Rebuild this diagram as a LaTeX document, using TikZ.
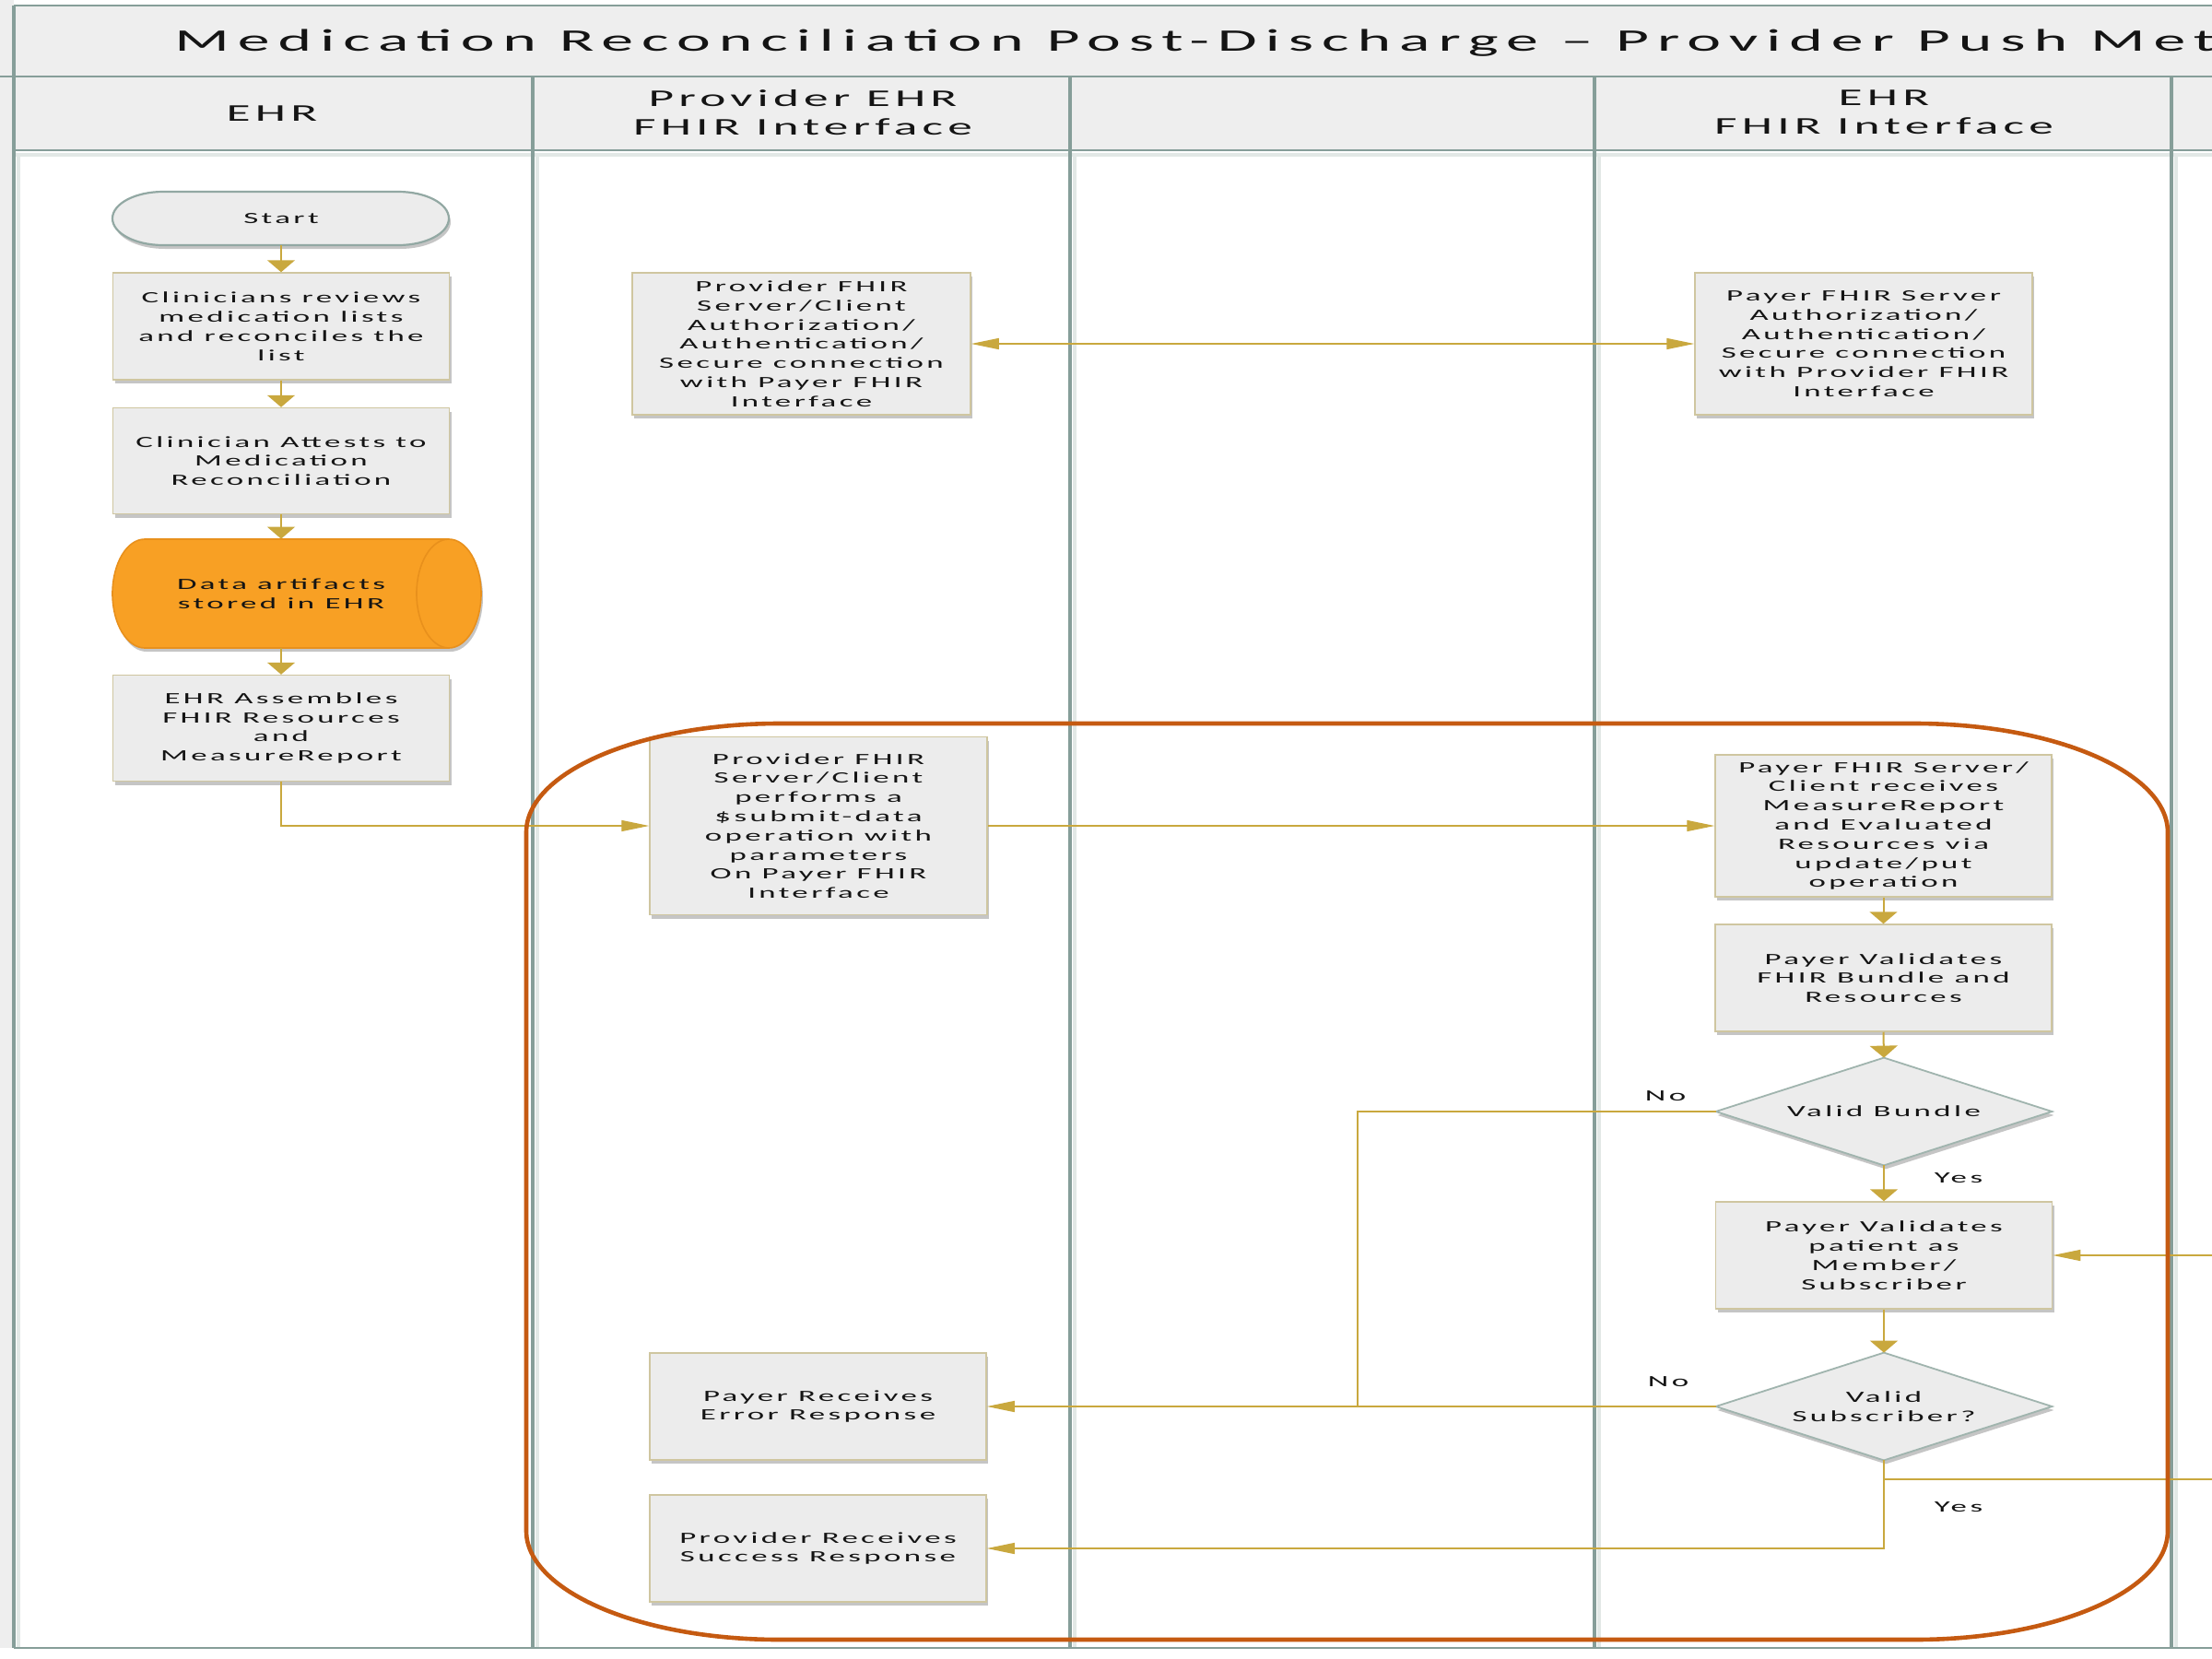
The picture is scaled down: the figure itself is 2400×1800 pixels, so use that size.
\documentclass[tikz,border=0pt]{standalone}
\usepackage{fontspec}
\setmainfont{Carlito}
\newfontfamily\wide[FakeStretch=2.05,LetterSpace=20]{Carlito}
\newfontfamily\widetitle[FakeStretch=2.05,LetterSpace=26.5]{Carlito}
\usetikzlibrary{arrows.meta,shadows,calc}
\definecolor{gold}{RGB}{201,168,62}
\definecolor{boxfill}{RGB}{236,236,236}
\definecolor{boxline}{RGB}{207,198,160}
\definecolor{lane}{RGB}{134,158,153}
\definecolor{laneshade}{RGB}{226,232,230}
\definecolor{band}{RGB}{238,238,238}
\definecolor{rust}{RGB}{197,90,17}
\definecolor{orangef}{RGB}{248,160,36}
\definecolor{orangel}{RGB}{232,144,28}
\definecolor{dia}{RGB}{160,180,174}
\definecolor{termline}{RGB}{146,168,163}
\definecolor{txt}{RGB}{20,20,20}
\tikzset{
  boxtext/.style={font=\wide\fontsize{8.5}{10.4}\selectfont, align=center, text=txt, inner sep=0pt},
  procbox/.style={boxtext, draw=boxline, fill=boxfill, line width=0.75pt,
    minimum width=182.5pt, minimum height=58pt,
    drop shadow={shadow xshift=1pt, shadow yshift=-2pt, fill=black!50, opacity=0.45}},
  hidden/.style={boxtext, draw=none, minimum width=182.5pt, minimum height=58pt},
  headtext/.style={font=\wide\fontsize{13}{15.5}\selectfont, align=center, text=txt, inner sep=0pt},
  lbl/.style={font=\wide\fontsize{8.5}{10.4}\selectfont, text=txt, inner sep=0pt},
  conn/.style={draw=gold, line width=0.8pt},
  varrow/.style={conn, line width=1pt, -{Triangle[length=6.5pt,width=15pt]}},
  harrow/.style={conn, line width=0.65pt, -{Triangle[length=15pt,width=6pt]}},
  barrow/.style={conn, line width=0.65pt, {Triangle[length=15pt,width=6pt]}-{Triangle[length=15pt,width=6pt]}},
  vlane/.style={draw=lane, line width=2.25pt},
  hlane/.style={draw=lane, line width=1.1pt},
  shd/.style={drop shadow={shadow xshift=1pt, shadow yshift=-2pt, fill=black!50, opacity=0.45}}
}
\begin{document}
\begin{tikzpicture}[x=0.5pt,y=-0.5pt]
\useasboundingbox (0,0) rectangle (2400,1800);
\clip (0,0) rectangle (2400,1800);
\fill[white] (0,0) rectangle (2400,1800);
% bands
\fill[band] (0,0) rectangle (15,1788);
\fill[band] (15,6) rectangle (2400,163);
% lane shadows
\foreach \xx in {578,1161,1730,2356} {\draw[laneshade, line width=2pt] (\xx+5,166) -- (\xx+5,1788);}
\draw[laneshade, line width=2pt] (15,168) -- (2400,168);
\draw[laneshade, line width=2pt] (20,166) -- (20,1788);
% lane lines
\draw[hlane] (15,6) -- (2400,6);
\draw[hlane] (0,83) -- (2400,83);
\draw[hlane, line width=1.4pt] (15,163) -- (2400,163);
\draw[hlane] (15,1788) -- (2400,1788);
\draw[vlane] (15,6) -- (15,1788);
\foreach \xx in {578,1161,1730,2356} {\draw[vlane] (\xx,83) -- (\xx,1788);}
% title and headers
\node[font=\widetitle\fontsize{17}{20}\selectfont, text=txt, inner sep=0pt, anchor=base west] (title) at (189,55) {Medication Reconciliation Post-Discharge – Provider Push Met};
\node[headtext] (h1) at (295,123) {EHR};
\node[headtext] (h2) at (871,122) {Provider EHR\\FHIR Interface};
\node[headtext] (h4) at (2044,122) {EHR\\FHIR Interface};
% start terminal
\node[hidden, minimum height=29pt] (start) at (305,237) {};
\draw[draw=termline, fill=boxfill, line width=1.1pt, shd] (177,208) -- (432,208) arc[start angle=270,end angle=450,x radius=55,y radius=29] -- (177,266) arc[start angle=90,end angle=270,x radius=55,y radius=29] -- cycle;
\node[boxtext] at (start) {Start};
% left lane boxes
\node[procbox] (clin) at (305,354) {Clinicians reviews\\medication lists\\and reconciles the\\list};
\node[procbox, minimum height=57.5pt] (attest) at (305,500) {Clinician Attests to\\Medication\\Reconciliation};
\node[hidden, minimum height=59pt] (data) at (305,644) {};
\draw[draw=orangel, fill=orangef, line width=0.8pt, shd] (157,585) -- (487,585) arc[start angle=270,end angle=450,x radius=35,y radius=59] -- (157,703) arc[start angle=90,end angle=270,x radius=35,y radius=59] -- cycle;
\draw[draw=orangel, line width=0.8pt] (487,585) arc[start angle=270,end angle=90,x radius=35,y radius=59];
\node[boxtext] at (data) {Data artifacts\\stored in EHR};
\node[procbox, minimum height=57.5pt] (assemble) at (305,790) {EHR Assembles\\FHIR Resources\\and\\MeasureReport};
% provider FHIR lane
\node[procbox, minimum width=183.5pt, minimum height=77pt] (provauth) at (869.5,373) {Provider FHIR\\Server/Client\\Authorization/\\Authentication/\\Secure connection\\with Payer FHIR\\Interface};
\node[procbox, minimum width=183pt, minimum height=96.5pt] (submit) at (888,896) {Provider FHIR\\Server/Client\\performs a\\\$submit-data\\operation with\\parameters\\On Payer FHIR\\Interface};
\node[procbox] (error) at (887.5,1526) {Payer Receives\\Error Response};
\node[procbox] (success) at (887.5,1680) {Provider Receives\\Success Response};
% payer lane
\node[procbox, minimum width=183pt, minimum height=77pt] (payauth) at (2022,373) {Payer FHIR Server\\Authorization/\\Authentication/\\Secure connection\\with Provider FHIR\\Interface};
\node[procbox, minimum height=77pt] (recv) at (2043.5,896) {Payer FHIR Server/\\Client receives\\MeasureReport\\and Evaluated\\Resources via\\update/put\\operation};
\node[procbox] (valbun) at (2043.5,1061) {Payer Validates\\FHIR Bundle and\\Resources};
\node[hidden, minimum width=182pt] (vb) at (2044,1206) {};
\draw[draw=dia, fill=boxfill, line width=0.9pt, shd] (vb.north) -- (vb.east) -- (vb.south) -- (vb.west) -- cycle;
\node[boxtext] at (vb) {Valid Bundle};
\node[procbox] (patient) at (2044,1362) {Payer Validates\\patient as\\Member/\\Subscriber};
\node[hidden, minimum width=182pt] (vs) at (2044,1526) {};
\draw[draw=dia, fill=boxfill, line width=0.9pt, shd] (vs.north) -- (vs.east) -- (vs.south) -- (vs.west) -- cycle;
\node[boxtext] at (vs) {Valid\\Subscriber?};
% labels
\node[lbl] (no1) at (1807,1189) {No};
\node[lbl] (yes1) at (2125,1278) {Yes};
\node[lbl] (no2) at (1810,1499) {No};
\node[lbl] (yes2) at (2125,1635) {Yes};
% coordinates
\coordinate (nojoin) at (1473,1526);
\coordinate (rin) at (2400,1362);
\coordinate (vsbranch) at (2044,1605);
\coordinate (rout) at (2400,1605);
% connectors
\draw[varrow] (start.south) -- (clin.north);
\draw[varrow] (clin.south) -- (attest.north);
\draw[varrow] (attest.south) -- (data.north);
\draw[varrow] (data.south) -- (assemble.north);
\draw[harrow] (assemble.south) |- (submit.west);
\draw[barrow] (provauth.east) -- (payauth.west);
\draw[harrow] (submit.east) -- (recv.west);
\draw[varrow] (recv.south) -- (valbun.north);
\draw[varrow] (valbun.south) -- (vb.north);
\draw[varrow] (vb.south) -- (patient.north);
\draw[harrow] (rin) -- (patient.east);
\draw[varrow] (patient.south) -- (vs.north);
\draw[conn] (vb.west) -| (nojoin);
\draw[harrow] (vs.west) -- (error.east);
\draw[harrow] (vs.south) |- (success.east);
\draw[conn] (vsbranch) -- (rout);
% container
\draw[rust, line width=2.3pt] (846,785) -- (2077,785) arc[start angle=270,end angle=360,x radius=275,y radius=118] -- (2352,1661) arc[start angle=0,end angle=90,x radius=275,y radius=118] -- (846,1779) arc[start angle=90,end angle=180,x radius=275,y radius=118] -- (571,903) arc[start angle=180,end angle=270,x radius=275,y radius=118] -- cycle;
\end{tikzpicture}
\end{document}
